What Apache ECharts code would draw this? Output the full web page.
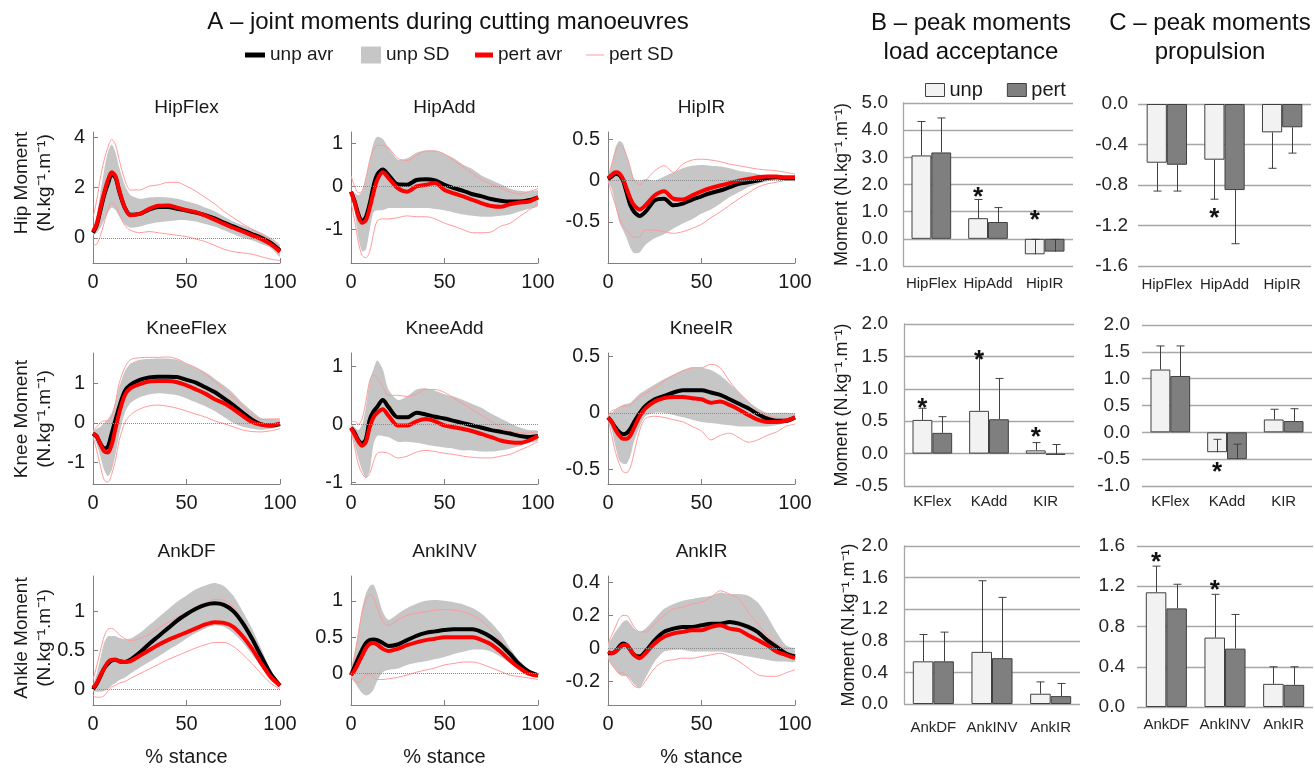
<!DOCTYPE html>
<html>
<head>
<meta charset="utf-8">
<script src="https://cdn.jsdelivr.net/npm/echarts@6/dist/echarts.min.js"></script>
<style>html,body{margin:0;padding:0;background:#fff}#container{width:1315px;height:768px}</style>
</head>
<body>
<div id="container"></div>
<script>
// % stance sample points
const stance = [0,2,4,6,8,10,12,14,17,20,25,30,35,40,45,50,55,60,65,70,75,80,85,90,95,100];

// Hip
const hipFlexUnp    = [0.2,0.5,1.1,1.7,2.15,2.5,2.4,1.85,1.2,0.92,0.95,1.12,1.22,1.22,1.15,1.08,1.0,0.9,0.77,0.6,0.45,0.3,0.15,0.0,-0.2,-0.5];
const hipFlexUnpHi  = [0.35,0.9,1.8,2.7,3.4,3.7,3.4,2.8,2.1,1.7,1.55,1.6,1.62,1.6,1.55,1.45,1.35,1.2,1.05,0.85,0.65,0.5,0.35,0.2,0.0,-0.3];
const hipFlexUnpLo  = [0.1,0.2,0.4,0.7,1.0,1.2,1.1,0.85,0.55,0.4,0.45,0.55,0.62,0.66,0.7,0.7,0.65,0.55,0.45,0.3,0.15,0.0,-0.1,-0.25,-0.4,-0.75];
const hipFlexPert   = [0.25,0.55,1.2,1.8,2.3,2.6,2.45,1.9,1.2,0.9,0.95,1.15,1.27,1.28,1.2,1.1,1.02,0.88,0.72,0.55,0.4,0.25,0.1,-0.05,-0.25,-0.55];
const hipFlexPertHi = [0.8,1.5,2.4,3.1,3.6,3.9,3.7,3.1,2.3,1.9,1.9,2.05,2.1,2.2,2.2,2.05,1.85,1.6,1.35,1.05,0.8,0.55,0.35,0.15,-0.1,-0.4];
const hipFlexPertLo = [-0.3,-0.25,0.1,0.6,1.1,1.4,1.3,0.95,0.5,0.3,0.2,0.25,0.2,0.15,0.1,0.05,-0.05,-0.15,-0.3,-0.45,-0.55,-0.6,-0.65,-0.75,-0.85,-0.9];

const hipAddUnp    = [-0.12,-0.35,-0.65,-0.81,-0.7,-0.4,0.0,0.27,0.39,0.27,0.05,0.04,0.15,0.17,0.14,0.04,-0.04,-0.1,-0.18,-0.23,-0.29,-0.33,-0.35,-0.35,-0.32,-0.25];
const hipAddUnpHi  = [-0.1,-0.15,-0.2,-0.1,0.2,0.6,1.0,1.15,1.1,0.9,0.62,0.65,0.78,0.83,0.83,0.75,0.65,0.5,0.4,0.25,0.15,0.05,-0.05,-0.1,-0.12,-0.1];
const hipAddUnpLo  = [-0.2,-0.6,-1.2,-1.5,-1.45,-1.0,-0.6,-0.55,-0.55,-0.5,-0.5,-0.5,-0.5,-0.5,-0.52,-0.55,-0.6,-0.65,-0.68,-0.7,-0.7,-0.68,-0.65,-0.58,-0.52,-0.45];
const hipAddPert   = [-0.12,-0.38,-0.7,-0.84,-0.78,-0.5,-0.15,0.15,0.33,0.2,-0.04,-0.12,0.0,0.04,0.08,-0.08,-0.16,-0.23,-0.31,-0.39,-0.45,-0.47,-0.41,-0.37,-0.35,-0.25];
const hipAddPertHi = [0.25,0.0,-0.15,-0.1,0.2,0.6,0.85,0.95,0.95,0.9,0.65,0.6,0.72,0.82,0.82,0.75,0.6,0.45,0.3,0.15,0.05,-0.05,-0.12,-0.18,-0.12,-0.05];
const hipAddPertLo = [-0.35,-0.8,-1.3,-1.6,-1.65,-1.5,-1.1,-0.8,-0.75,-0.75,-0.72,-0.68,-0.7,-0.7,-0.75,-0.85,-0.92,-1.0,-1.07,-1.07,-1.05,-0.92,-0.85,-0.7,-0.55,-0.4];

const hipIRUnp    = [0.02,0.05,0.08,0.07,0.0,-0.15,-0.3,-0.38,-0.43,-0.38,-0.24,-0.22,-0.3,-0.28,-0.23,-0.19,-0.15,-0.12,-0.08,-0.04,-0.02,0.0,0.03,0.04,0.03,0.03];
const hipIRUnpHi  = [0.05,0.2,0.4,0.48,0.45,0.3,0.15,0.02,0.0,0.02,0.0,0.05,0.1,0.15,0.18,0.19,0.18,0.17,0.15,0.12,0.1,0.08,0.05,0.04,0.02,0.01];
const hipIRUnpLo  = [0.0,-0.1,-0.3,-0.5,-0.6,-0.7,-0.82,-0.88,-0.87,-0.78,-0.7,-0.65,-0.58,-0.52,-0.47,-0.4,-0.35,-0.28,-0.2,-0.14,-0.08,-0.04,-0.01,0.01,0.02,0.02];
const hipIRPert   = [0.03,0.07,0.1,0.09,0.02,-0.1,-0.22,-0.3,-0.35,-0.3,-0.18,-0.13,-0.22,-0.23,-0.18,-0.13,-0.09,-0.06,-0.03,0.0,0.02,0.04,0.05,0.05,0.04,0.04];
const hipIRPertHi = [0.02,0.2,0.35,0.43,0.4,0.3,0.15,0.0,-0.05,0.0,0.12,0.18,0.1,0.2,0.25,0.26,0.25,0.23,0.2,0.18,0.16,0.14,0.13,0.12,0.1,0.08];
const hipIRPertLo = [0.0,-0.15,-0.3,-0.45,-0.55,-0.6,-0.65,-0.69,-0.68,-0.6,-0.6,-0.62,-0.64,-0.62,-0.58,-0.53,-0.45,-0.38,-0.3,-0.22,-0.15,-0.08,-0.04,-0.02,0.0,0.0];

// Knee
const kneeFlexUnp    = [-0.27,-0.35,-0.53,-0.65,-0.6,-0.27,0.07,0.4,0.8,0.96,1.09,1.15,1.17,1.17,1.16,1.09,1.02,0.9,0.78,0.62,0.45,0.26,0.08,-0.04,-0.07,-0.03];
const kneeFlexUnpHi  = [-0.2,-0.15,-0.1,0.0,0.1,0.25,0.55,0.9,1.3,1.5,1.6,1.62,1.63,1.63,1.6,1.5,1.4,1.28,1.12,0.95,0.75,0.5,0.3,0.12,0.1,0.08];
const kneeFlexUnpLo  = [-0.3,-0.55,-0.85,-1.2,-1.35,-1.2,-0.8,-0.3,0.25,0.5,0.65,0.72,0.75,0.73,0.7,0.62,0.52,0.42,0.3,0.15,0.0,-0.1,-0.15,-0.18,-0.15,-0.08];
const kneeFlexPert   = [-0.27,-0.33,-0.55,-0.72,-0.75,-0.55,-0.15,0.25,0.7,0.88,0.98,1.05,1.06,1.06,1.03,0.95,0.85,0.74,0.6,0.5,0.35,0.18,0.02,-0.05,-0.06,-0.02];
const kneeFlexPertHi = [-0.2,-0.1,0.0,0.05,0.05,0.15,0.5,1.0,1.4,1.6,1.65,1.66,1.66,1.67,1.62,1.5,1.4,1.25,1.05,0.85,0.65,0.42,0.2,0.08,0.1,0.1];
const kneeFlexPertLo = [-0.35,-0.7,-1.1,-1.45,-1.5,-1.3,-0.95,-0.45,0.0,0.2,0.35,0.43,0.45,0.42,0.37,0.3,0.22,0.15,0.05,-0.02,-0.1,-0.18,-0.22,-0.23,-0.2,-0.15];

const kneeAddUnp    = [-0.06,-0.15,-0.28,-0.33,-0.25,0.08,0.22,0.3,0.42,0.3,0.12,0.12,0.2,0.17,0.13,0.1,0.06,0.02,-0.02,-0.06,-0.1,-0.13,-0.16,-0.2,-0.22,-0.2];
const kneeAddUnpHi  = [0.0,-0.05,-0.1,0.0,0.3,0.75,0.95,1.1,0.95,0.6,0.42,0.48,0.6,0.62,0.58,0.52,0.48,0.42,0.35,0.28,0.18,0.1,0.02,-0.05,-0.1,-0.12];
const kneeAddUnpLo  = [-0.05,-0.35,-0.6,-0.8,-0.92,-0.8,-0.35,-0.2,-0.2,-0.22,-0.3,-0.3,-0.32,-0.35,-0.38,-0.4,-0.42,-0.45,-0.45,-0.47,-0.47,-0.45,-0.42,-0.38,-0.32,-0.28];
const kneeAddPert   = [-0.06,-0.18,-0.3,-0.37,-0.3,-0.05,0.12,0.2,0.26,0.15,-0.02,-0.02,0.05,0.09,0.05,-0.02,-0.05,-0.08,-0.12,-0.17,-0.22,-0.28,-0.31,-0.32,-0.28,-0.2];
const kneeAddPertHi = [0.05,0.05,0.0,0.1,0.4,0.75,0.85,0.8,0.65,0.5,0.5,0.48,0.52,0.6,0.6,0.55,0.45,0.35,0.25,0.15,0.05,-0.05,-0.12,-0.15,-0.15,-0.12];
const kneeAddPertLo = [-0.1,-0.4,-0.7,-0.85,-0.92,-0.85,-0.65,-0.5,-0.48,-0.5,-0.58,-0.55,-0.48,-0.45,-0.47,-0.5,-0.52,-0.55,-0.57,-0.58,-0.58,-0.55,-0.52,-0.45,-0.38,-0.3];

const kneeIRUnp    = [-0.04,-0.08,-0.13,-0.17,-0.19,-0.18,-0.14,-0.08,0.0,0.06,0.12,0.15,0.18,0.2,0.2,0.2,0.18,0.16,0.12,0.08,0.04,-0.01,-0.05,-0.07,-0.07,-0.04];
const kneeIRUnpHi  = [-0.03,0.0,0.03,0.05,0.07,0.08,0.09,0.12,0.17,0.2,0.25,0.3,0.34,0.38,0.4,0.4,0.38,0.33,0.26,0.18,0.1,0.04,0.0,0.0,0.0,-0.01];
const kneeIRUnpLo  = [-0.05,-0.15,-0.3,-0.42,-0.45,-0.45,-0.38,-0.25,-0.12,-0.03,0.0,0.0,-0.02,-0.04,-0.06,-0.08,-0.09,-0.1,-0.11,-0.12,-0.12,-0.12,-0.12,-0.11,-0.09,-0.06];
const kneeIRPert   = [-0.04,-0.08,-0.15,-0.2,-0.23,-0.23,-0.2,-0.13,-0.03,0.04,0.1,0.13,0.14,0.14,0.13,0.12,0.09,0.1,0.07,0.03,-0.02,-0.06,-0.08,-0.08,-0.07,-0.04];
const kneeIRPertHi = [-0.03,0.02,0.03,0.05,0.06,0.06,0.07,0.1,0.14,0.17,0.22,0.28,0.33,0.37,0.4,0.4,0.43,0.4,0.28,0.18,0.1,0.02,-0.02,-0.04,-0.05,-0.05];
const kneeIRPertLo = [-0.05,-0.2,-0.35,-0.45,-0.52,-0.53,-0.48,-0.35,-0.15,-0.05,-0.03,-0.04,-0.06,-0.08,-0.12,-0.16,-0.24,-0.2,-0.18,-0.22,-0.26,-0.24,-0.2,-0.17,-0.12,-0.1];

// Ankle
const ankDFUnp    = [0.0,0.07,0.17,0.27,0.33,0.37,0.38,0.36,0.35,0.38,0.47,0.58,0.68,0.78,0.88,0.96,1.03,1.08,1.1,1.08,1.0,0.85,0.65,0.42,0.2,0.05];
const ankDFUnpHi  = [0.05,0.2,0.4,0.6,0.68,0.68,0.68,0.66,0.64,0.65,0.72,0.82,0.92,1.02,1.12,1.2,1.28,1.33,1.36,1.32,1.2,1.0,0.78,0.52,0.25,0.08];
const ankDFUnpLo  = [-0.02,-0.03,-0.03,-0.02,0.0,0.05,0.08,0.12,0.15,0.2,0.28,0.35,0.42,0.5,0.57,0.65,0.72,0.78,0.82,0.8,0.72,0.6,0.45,0.3,0.12,0.02];
const ankDFPert   = [0.02,0.08,0.18,0.27,0.35,0.38,0.38,0.36,0.35,0.36,0.43,0.5,0.57,0.63,0.68,0.73,0.78,0.83,0.86,0.85,0.8,0.68,0.52,0.33,0.16,0.05];
const ankDFPertHi = [0.12,0.3,0.5,0.68,0.77,0.78,0.75,0.7,0.65,0.62,0.65,0.7,0.78,0.85,0.92,0.98,1.05,1.1,1.15,1.14,1.05,0.88,0.68,0.45,0.22,0.07];
const ankDFPertLo = [-0.08,-0.1,-0.1,-0.08,-0.02,0.03,0.05,0.08,0.1,0.14,0.2,0.26,0.32,0.38,0.43,0.48,0.53,0.57,0.6,0.6,0.55,0.45,0.33,0.2,0.08,0.0];

const ankINVUnp    = [-0.02,0.1,0.22,0.33,0.42,0.46,0.47,0.46,0.42,0.38,0.4,0.46,0.52,0.56,0.58,0.6,0.61,0.61,0.61,0.57,0.5,0.4,0.27,0.13,0.03,-0.02];
const ankINVUnpHi  = [0.05,0.3,0.6,0.9,1.1,1.2,1.22,1.1,0.85,0.74,0.82,0.9,0.96,1.0,1.01,1.0,0.98,0.95,0.9,0.82,0.7,0.55,0.35,0.18,0.06,-0.01];
const ankINVUnpLo  = [-0.05,-0.12,-0.2,-0.27,-0.3,-0.28,-0.22,-0.1,0.02,0.05,0.07,0.12,0.15,0.17,0.2,0.23,0.27,0.3,0.33,0.33,0.3,0.23,0.15,0.08,0.02,-0.03];
const ankINVPert   = [-0.02,0.05,0.15,0.25,0.35,0.41,0.42,0.4,0.34,0.31,0.34,0.39,0.43,0.46,0.48,0.5,0.5,0.5,0.5,0.46,0.4,0.3,0.18,0.08,0.0,-0.03];
const ankINVPertHi = [0.0,0.25,0.55,0.85,1.02,1.08,1.05,0.9,0.72,0.66,0.74,0.8,0.83,0.85,0.87,0.88,0.87,0.85,0.8,0.72,0.6,0.45,0.28,0.12,0.03,-0.03];
const ankINVPertLo = [-0.05,-0.1,-0.12,-0.08,-0.02,0.0,-0.05,-0.08,-0.08,-0.07,-0.05,-0.02,0.02,0.05,0.08,0.12,0.14,0.16,0.16,0.13,0.08,0.03,-0.02,-0.04,-0.06,-0.08];

const ankIRUnp    = [-0.03,-0.03,-0.02,0.01,0.03,0.02,-0.01,-0.04,-0.05,-0.02,0.05,0.1,0.12,0.13,0.13,0.14,0.15,0.15,0.16,0.15,0.13,0.1,0.05,0.01,-0.03,-0.05];
const ankIRUnpHi  = [0.03,0.06,0.1,0.13,0.16,0.17,0.15,0.12,0.1,0.12,0.18,0.24,0.27,0.29,0.3,0.31,0.32,0.34,0.33,0.33,0.32,0.28,0.2,0.1,0.02,-0.01];
const ankIRUnpLo  = [-0.06,-0.1,-0.13,-0.16,-0.17,-0.17,-0.19,-0.22,-0.24,-0.18,-0.08,-0.02,-0.01,-0.01,-0.02,-0.02,-0.02,-0.02,-0.03,-0.04,-0.05,-0.06,-0.07,-0.08,-0.08,-0.08];
const ankIRPert   = [-0.02,-0.03,-0.02,0.0,0.02,0.02,-0.01,-0.04,-0.06,-0.03,0.03,0.07,0.09,0.1,0.11,0.11,0.13,0.14,0.12,0.11,0.08,0.05,0.02,-0.02,-0.04,-0.06];
const ankIRPertHi = [0.03,0.08,0.13,0.18,0.2,0.2,0.17,0.13,0.1,0.1,0.15,0.2,0.24,0.25,0.27,0.28,0.31,0.35,0.33,0.3,0.22,0.15,0.08,0.03,0.0,0.0];
const ankIRPertLo = [-0.06,-0.1,-0.13,-0.15,-0.15,-0.17,-0.2,-0.23,-0.24,-0.2,-0.12,-0.08,-0.07,-0.06,-0.06,-0.05,-0.04,-0.03,-0.05,-0.08,-0.12,-0.16,-0.17,-0.17,-0.15,-0.13];

const lineTitles = ['HipFlex','HipAdd','HipIR','KneeFlex','KneeAdd','KneeIR','AnkDF','AnkINV','AnkIR'];
const jointNames = ['Hip Moment','Knee Moment','Ankle Moment'];
const yTickVals = [[0,2,4],[-1,0,1],[-0.5,0,0.5],[-1,0,1],[-1,0,1],[-0.5,0,0.5],[0,0.5,1],[0,0.5,1],[-0.2,0,0.2,0.4]];

// peak moments (bars), signed SD gives the error bar direction
const hipCats  = ['HipFlex','HipAdd','HipIR'];
const kneeCats = ['KFlex','KAdd','KIR'];
const ankCats  = ['AnkDF','AnkINV','AnkIR'];

const laHipUnp = [3.07,0.76,-0.57],  laHipUnpSD = [1.25,0.69,0.55];
const laHipPert = [3.18,0.62,-0.47], laHipPertSD = [1.27,0.53,0.45];
const laHipStars = [[1,1.72],[2,0.88]];
const prHipUnp = [-0.58,-0.55,-0.28], prHipUnpSD = [-0.28,-0.39,-0.355];
const prHipPert = [-0.60,-0.85,-0.23], prHipPertSD = [-0.26,-0.53,-0.255];
const prHipStars = [[1,-1.07]];

const laKneeUnp = [0.52,0.66,0.05],  laKneeUnpSD = [0.18,0.86,0.12];
const laKneePert = [0.32,0.53,-0.02], laKneePertSD = [0.25,0.63,0.16];
const laKneeStars = [[0,0.78],[1,1.52],[2,0.34]];
const prKneeUnp = [1.17,-0.37,0.24], prKneeUnpSD = [0.44,0.24,0.19];
const prKneePert = [1.05,-0.50,0.21], prKneePertSD = [0.56,0.28,0.23];
const prKneeStars = [[1,-0.64]];

const laAnkUnp = [0.54,0.66,0.13],  laAnkUnpSD = [0.34,0.90,0.15];
const laAnkPert = [0.54,0.58,0.10], laAnkPertSD = [0.37,0.77,0.16];
const laAnkStars = [];
const prAnkUnp = [1.14,0.69,0.23], prAnkUnpSD = [0.26,0.43,0.17];
const prAnkPert = [0.98,0.58,0.22], prAnkPertSD = [0.24,0.34,0.18];
const prAnkStars = [[0,1.49],[1,1.21]];

const unitText = '(N.kg\u207B\u00B9.m\u207B\u00B9)';
const FONT = 'Liberation Sans';
const TXT = '#1a1a1a';
const SD_GRAY = '#c6c6c6';
const SD_PINK = '#ff9a9a';

const curves = [
  [hipFlexUnp, hipFlexUnpHi, hipFlexUnpLo, hipFlexPert, hipFlexPertHi, hipFlexPertLo],
  [hipAddUnp, hipAddUnpHi, hipAddUnpLo, hipAddPert, hipAddPertHi, hipAddPertLo],
  [hipIRUnp, hipIRUnpHi, hipIRUnpLo, hipIRPert, hipIRPertHi, hipIRPertLo],
  [kneeFlexUnp, kneeFlexUnpHi, kneeFlexUnpLo, kneeFlexPert, kneeFlexPertHi, kneeFlexPertLo],
  [kneeAddUnp, kneeAddUnpHi, kneeAddUnpLo, kneeAddPert, kneeAddPertHi, kneeAddPertLo],
  [kneeIRUnp, kneeIRUnpHi, kneeIRUnpLo, kneeIRPert, kneeIRPertHi, kneeIRPertLo],
  [ankDFUnp, ankDFUnpHi, ankDFUnpLo, ankDFPert, ankDFPertHi, ankDFPertLo],
  [ankINVUnp, ankINVUnpHi, ankINVUnpLo, ankINVPert, ankINVPertHi, ankINVPertLo],
  [ankIRUnp, ankIRUnpHi, ankIRUnpLo, ankIRPert, ankIRPertHi, ankIRPertLo]
];
// axis extents of panel A
const yMin = [-1, -1.77, -1.0, -1.55, -1.03, -0.63, -0.2, -0.43, -0.345];
const yMax = [4.2, 1.26, 0.59, 1.77, 1.23, 0.53, 1.45, 1.34, 0.44];

const colLeft = [93, 351, 608];
const rowTop = [132, 353, 576];
const plotW = 187, plotH = 131;

let myChart = echarts.init(document.getElementById('container'));

const grids = [], xAxes = [], yAxes = [], series = [], titles = [];

function pts(ys) { return stance.map((x, k) => [x, ys[k]]); }

// gray SD band drawn as one polygon between the upper and lower curves
function bandSeries(i, hi, lo) {
  return {
    type: 'custom', name: 'unp SD', xAxisIndex: i, yAxisIndex: i, silent: true, z: 1, clip: true,
    color: SD_GRAY,
    data: stance.map((x, k) => [x, lo[k], hi[k]]),
    encode: {x: 0, y: [1, 2]},
    renderItem: function (params, api) {
      if (params.dataIndex !== 0) return null;
      const upper = stance.map((x, k) => api.coord([x, hi[k]]));
      const lower = stance.map((x, k) => api.coord([x, lo[k]])).reverse();
      return {type: 'polygon', shape: {points: upper.concat(lower), smooth: 0.25},
        style: {fill: SD_GRAY, stroke: null}};
    }
  };
}

for (let i = 0; i < 9; i++) {
  const r = Math.floor(i / 3), c = i % 3;
  grids.push({left: colLeft[c], top: rowTop[r], width: plotW, height: plotH});
  titles.push({
    text: lineTitles[i], left: colLeft[c] + plotW / 2, top: rowTop[r] - 24,
    textAlign: 'center', textVerticalAlign: 'middle', padding: 0,
    textStyle: {fontSize: 19, fontWeight: 'normal', color: TXT, fontFamily: FONT}
  });
  xAxes.push({
    gridIndex: i, type: 'value', min: 0, max: 100, interval: 50,
    name: r === 2 ? '% stance' : '', nameLocation: 'middle', nameGap: 42,
    nameTextStyle: {fontSize: 20, color: TXT, fontFamily: FONT},
    axisLine: {onZero: false, lineStyle: {color: '#808080'}},
    axisTick: {inside: true, length: 5, lineStyle: {color: '#808080'}},
    axisLabel: {fontSize: 20, color: TXT, margin: 9, fontFamily: FONT},
    splitLine: {show: false}
  });
  yAxes.push({
    gridIndex: i, type: 'value', min: yMin[i], max: yMax[i],
    axisLine: {show: true, onZero: false, lineStyle: {color: '#808080'}},
    axisTick: {show: true, inside: true, length: 5, customValues: yTickVals[i], lineStyle: {color: '#808080'}},
    axisLabel: {fontSize: 20, color: TXT, margin: 8, fontFamily: FONT, customValues: yTickVals[i],
      formatter: v => String(+v.toFixed(2))},
    splitLine: {show: false}
  });
  const [u, uHi, uLo, p, pHi, pLo] = curves[i];
  const common = {xAxisIndex: i, yAxisIndex: i, symbol: 'none', smooth: 0.3, silent: true};
  series.push(bandSeries(i, uHi, uLo));
  series.push(Object.assign({type: 'line', name: 'pert SD', data: pts(pHi), color: SD_PINK,
    lineStyle: {color: SD_PINK, width: 1}, z: 2}, common));
  series.push(Object.assign({type: 'line', name: 'pert SD', data: pts(pLo), color: SD_PINK,
    lineStyle: {color: SD_PINK, width: 1}, z: 2}, common));
  series.push(Object.assign({type: 'line', name: 'unp avr', data: pts(u), color: '#000',
    lineStyle: {color: '#000', width: 4}, z: 3,
    markLine: {silent: true, symbol: 'none', label: {show: false},
      lineStyle: {color: '#8a8a8a', type: 'dotted', width: 1}, data: [{yAxis: 0}]}}, common));
  series.push(Object.assign({type: 'line', name: 'pert avr', data: pts(p), color: '#ff0000',
    lineStyle: {color: '#ff0000', width: 4}, z: 4}, common));
}

// bar panels (B and C)
const barPanels = [
  {cats: hipCats, unp: laHipUnp, unpSD: laHipUnpSD, pert: laHipPert, pertSD: laHipPertSD, stars: laHipStars,
   grid: {left: 903, top: 103, width: 170, height: 163}, min: -1, max: 5, step: 1, axisLine: true, lm: 15, cm: 10},
  {cats: hipCats, unp: prHipUnp, unpSD: prHipUnpSD, pert: prHipPert, pertSD: prHipPertSD, stars: prHipStars,
   grid: {left: 1138, top: 104, width: 173, height: 162}, min: -1.6, max: 0, step: 0.4, axisLine: false, lm: 10, cm: 11},
  {cats: kneeCats, unp: laKneeUnp, unpSD: laKneeUnpSD, pert: laKneePert, pertSD: laKneePertSD, stars: laKneeStars,
   grid: {left: 904, top: 324, width: 170, height: 162}, min: -0.5, max: 2, step: 0.5, axisLine: true, lm: 16, cm: 8},
  {cats: kneeCats, unp: prKneeUnp, unpSD: prKneeUnpSD, pert: prKneePert, pertSD: prKneePertSD, stars: prKneeStars,
   grid: {left: 1142, top: 325, width: 170, height: 161}, min: -1, max: 2, step: 0.5, axisLine: false, lm: 12, cm: 8},
  {cats: ankCats, unp: laAnkUnp, unpSD: laAnkUnpSD, pert: laAnkPert, pertSD: laAnkPertSD, stars: laAnkStars,
   grid: {left: 904, top: 546, width: 176, height: 158}, min: 0, max: 2, step: 0.4, axisLine: true, lm: 16, cm: 16},
  {cats: ankCats, unp: prAnkUnp, unpSD: prAnkUnpSD, pert: prAnkPert, pertSD: prAnkPertSD, stars: prAnkStars,
   grid: {left: 1137, top: 546, width: 176, height: 161}, min: 0, max: 1.6, step: 0.4, axisLine: false, lm: 12, cm: 10}
];

function errSeries(g, vals, sds, side) {
  return {
    type: 'custom', xAxisIndex: g, yAxisIndex: g, silent: true, z: 5,
    data: vals.map((v, k) => [k, v, v + sds[k]]),
    encode: {x: 0, y: [1, 2]},
    renderItem: function (params, api) {
      const c = api.value(0);
      const p0 = api.coord([c, api.value(1)]);
      const p1 = api.coord([c, api.value(2)]);
      const bw = api.size([1, 0])[0] * 0.35;
      const x = Math.round(p0[0] + side * bw / 2) + 0.5;
      const st = {stroke: '#404040', lineWidth: 1};
      return {type: 'group', children: [
        {type: 'line', shape: {x1: x, y1: p0[1], x2: x, y2: p1[1]}, style: st},
        {type: 'line', shape: {x1: x - 4, y1: p1[1], x2: x + 4, y2: p1[1]}, style: st}
      ]};
    }
  };
}

function starSeries(g, stars) {
  return {
    type: 'custom', xAxisIndex: g, yAxisIndex: g, silent: true, z: 6,
    data: stars, encode: {x: 0, y: 1},
    renderItem: function (params, api) {
      const pt = api.coord([api.value(0), api.value(1)]);
      const bw = api.size([1, 0])[0] * 0.35;
      return {type: 'text', x: pt[0] - bw / 2, y: pt[1] + 6,
        style: {text: '*', font: 'bold 26px "Liberation Sans"', fill: '#111', align: 'center', verticalAlign: 'middle'}};
    }
  };
}

barPanels.forEach((b, k) => {
  const g = 9 + k;
  grids.push(b.grid);
  xAxes.push({
    gridIndex: g, type: 'category', data: b.cats,
    axisLine: {show: false}, axisTick: {show: false},
    axisLabel: {interval: 0, fontSize: 15, color: '#262626', margin: b.cm, fontFamily: FONT},
    splitLine: {show: false}
  });
  yAxes.push({
    gridIndex: g, type: 'value', min: b.min, max: b.max, interval: b.step,
    name: k % 2 === 0 ? 'Moment ' + unitText : '', nameLocation: 'middle', nameGap: 40,
    nameTextStyle: {fontSize: 18, color: TXT, fontFamily: FONT},
    axisLine: {show: b.axisLine, onZero: false, lineStyle: {color: '#a6a6a6', width: 1.3}},
    axisTick: {show: false},
    axisLabel: {fontSize: 19, color: '#262626', margin: b.lm, fontFamily: FONT, formatter: v => v.toFixed(1)},
    splitLine: {lineStyle: {color: '#a6a6a6', width: 1.3}}
  });
  series.push({type: 'bar', name: 'unp', xAxisIndex: g, yAxisIndex: g, data: b.unp,
    barGap: '0%', barCategoryGap: '30%', silent: true,
    itemStyle: {color: '#f2f2f2', borderColor: '#404040', borderWidth: 1}});
  series.push({type: 'bar', name: 'pert', xAxisIndex: g, yAxisIndex: g, data: b.pert,
    barGap: '0%', barCategoryGap: '30%', silent: true,
    itemStyle: {color: '#7f7f7f', borderColor: '#404040', borderWidth: 1}});
  series.push(errSeries(g, b.unp, b.unpSD, -1));
  series.push(errSeries(g, b.pert, b.pertSD, 1));
  if (b.stars.length) series.push(starSeries(g, b.stars));
});

titles.push(
  {text: 'A \u2013 joint moments during cutting manoeuvres', left: 448, top: 22, textAlign: 'center', textVerticalAlign: 'middle',
   padding: 0, textStyle: {fontSize: 24, fontWeight: 'normal', color: '#111', fontFamily: FONT}},
  {text: 'B \u2013 peak moments\nload acceptance', left: 971, top: 38, textAlign: 'center', textVerticalAlign: 'middle',
   padding: 0, textStyle: {fontSize: 24, fontWeight: 'normal', color: '#111', fontFamily: FONT, lineHeight: 29}},
  {text: 'C \u2013 peak moments\npropulsion', left: 1210, top: 38, textAlign: 'center', textVerticalAlign: 'middle',
   padding: 0, textStyle: {fontSize: 24, fontWeight: 'normal', color: '#111', fontFamily: FONT, lineHeight: 29}}
);

const legendText = {fontSize: 19, color: TXT, fontFamily: FONT, lineHeight: 22};
function oneLegend(name, left, w, h, style) {
  return {data: [{name: name, icon: 'rect', itemStyle: style}], left: left, top: 44, padding: 0,
    itemWidth: w, itemHeight: h, textStyle: legendText, selectedMode: false};
}

const option = {
  animation: false,
  textStyle: {fontFamily: FONT},
  title: titles,
  legend: [
    oneLegend('unp avr', 245, 20, 5, {color: '#000', borderWidth: 0}),
    oneLegend('unp SD', 361, 20, 17, {color: SD_GRAY, borderWidth: 0}),
    oneLegend('pert avr', 475, 18, 5, {color: '#ff0000', borderWidth: 0}),
    oneLegend('pert SD', 586, 18, 1, {color: SD_PINK, borderWidth: 0}),
    {data: [
      {name: 'unp', icon: 'rect', itemStyle: {color: '#f2f2f2', borderColor: '#404040', borderWidth: 1}},
      {name: 'pert', icon: 'rect', itemStyle: {color: '#7f7f7f', borderColor: '#404040', borderWidth: 1}}
     ], left: 925, top: 79, padding: 0, itemWidth: 19, itemHeight: 13, itemGap: 24,
     textStyle: {fontSize: 20, color: TXT, fontFamily: FONT, lineHeight: 22}, selectedMode: false}
  ],
  grid: grids,
  xAxis: xAxes,
  yAxis: yAxes,
  series: series,
  graphic: jointNames.map((nm, r) => ({
    type: 'text', x: 33, y: [183, 419, 638][r], rotation: Math.PI / 2,
    style: {text: nm + '\n' + unitText, fontSize: 19, fontFamily: FONT, fill: TXT,
      align: 'center', verticalAlign: 'middle', lineHeight: 23}
  }))
};

myChart.setOption(option);
</script>
</body>
</html>
